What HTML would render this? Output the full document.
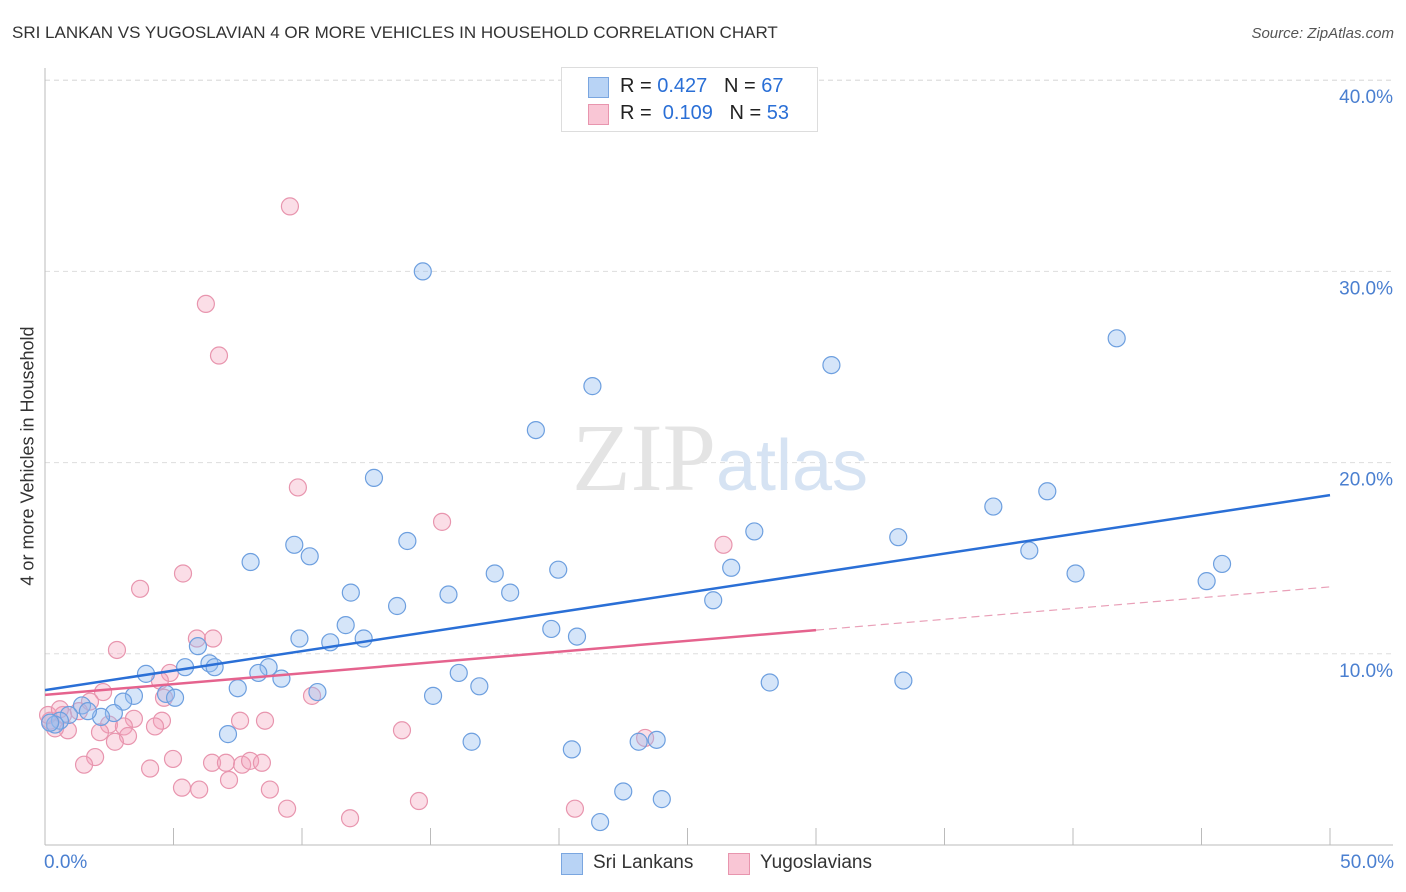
<!DOCTYPE html>
<html><head><meta charset="utf-8"><style>
body{margin:0;background:#fff;font-family:"Liberation Sans",sans-serif;}
#wrap{position:relative;width:1406px;height:892px;overflow:hidden;}
.t{position:absolute;white-space:nowrap;}
</style></head><body>
<div id="wrap">
<div class="t" style="left:12px;top:23px;font-size:17px;color:#333;">SRI LANKAN VS YUGOSLAVIAN 4 OR MORE VEHICLES IN HOUSEHOLD CORRELATION CHART</div>
<div class="t" style="right:12px;top:25px;font-size:15px;color:#555;font-style:italic;">Source: ZipAtlas.com</div>
<div class="t" style="left:28px;top:456px;font-size:18px;color:#333;transform:translate(-50%,-50%) rotate(-90deg);">4 or more Vehicles in Household</div>
<svg id="svg" width="1406" height="892" style="position:absolute;left:0;top:0"></svg>
</div>
<script>
const blueX=[14.7,21.3,19.1,12.8,30.6,41.7,36.9,39.0,27.6,33.2,38.3,40.1,45.2,45.8,26.7,19.97,14.1,9.7,10.3,8.0,17.5,11.9,15.7,18.1,13.7,26.0,11.7,19.7,20.7,9.9,11.1,12.4,5.95,5.45,6.4,6.6,3.93,8.7,8.3,9.2,16.1,7.5,10.6,16.9,15.1,28.2,33.4,4.71,5.06,3.46,3.04,1.44,2.68,2.18,7.12,0.93,0.58,0.39,16.6,20.5,23.1,23.8,22.5,24.0,21.6,0.2,1.67];
const blueY=[30.0,24.0,21.7,19.2,25.1,26.5,17.7,18.5,16.4,16.1,15.4,14.2,13.8,14.7,14.5,14.4,15.9,15.7,15.1,14.8,14.2,13.2,13.1,13.2,12.5,12.8,11.5,11.3,10.9,10.8,10.6,10.8,10.4,9.3,9.5,9.3,8.95,9.3,9.0,8.7,9.0,8.2,8.0,8.3,7.8,8.5,8.6,7.9,7.7,7.8,7.5,7.3,6.9,6.7,5.8,6.8,6.5,6.3,5.4,5.0,5.4,5.5,2.8,2.4,1.2,6.4,7.0];
const pinkX=[9.53,6.26,6.77,9.84,15.45,26.4,5.37,3.7,5.91,6.54,2.8,4.86,4.47,2.26,4.63,1.75,1.32,0.7,3.46,10.39,8.56,7.59,4.55,2.49,3.07,2.14,0.89,4.28,3.23,2.72,13.89,23.35,1.95,1.52,4.09,4.98,6.5,7.04,7.67,7.98,8.44,7.16,5.33,6.0,8.75,14.55,9.42,11.87,20.62,0.2,0.39,0.12,0.58];
const pinkY=[33.4,28.3,25.6,18.7,16.9,15.7,14.2,13.4,10.8,10.8,10.2,9.0,8.6,8.0,7.7,7.5,7.0,6.8,6.6,7.8,6.5,6.5,6.5,6.3,6.2,5.9,6.0,6.2,5.7,5.4,6.0,5.6,4.6,4.2,4.0,4.5,4.3,4.3,4.2,4.4,4.3,3.4,3.0,2.9,2.9,2.3,1.9,1.4,1.9,6.5,6.1,6.8,7.1];
const yTicks=[10,20,30,40];
const yTickLabels=["10.0%","20.0%","30.0%","40.0%"];
const xTickVals=[5,10,15,20,25,30,35,40,45,50];
const blueTrend=[8.1,18.3];
const pinkTrend=[7.85,13.5];
const pinkSolidEnd=30;

const X=v=>45+v*25.7, Y=v=>845-v*19.12;
const svg=document.getElementById('svg');const NS='http://www.w3.org/2000/svg';
function mk(t,a,p){const e=document.createElementNS(NS,t);for(const k in a)e.setAttribute(k,a[k]);(p||svg).appendChild(e);return e;}
yTicks.forEach((v,i)=>{
 const g=mk('line',{x1:45,x2:1393,y1:Y(v),y2:Y(v),stroke:'#ddd','stroke-dasharray':'5,4'});
 
 
 const t=mk('text',{x:1393,y:Y(v)+23,'text-anchor':'end','font-size':19,fill:'#4a7fd0','font-family':'Liberation Sans'});
 t.textContent=yTickLabels[i];
 
 
});
{const g=mk('line',{x1:45,x2:1393,y1:Y(40),y2:Y(40),stroke:'#ddd','stroke-dasharray':'5,4'});}
const ax=mk('line',{x1:45,x2:45,y1:68,y2:845,stroke:'#bbb'});


const bx=mk('line',{x1:45,x2:1393,y1:845,y2:845,stroke:'#bbb'});


xTickVals.forEach(v=>{const l=mk('line',{x1:X(v),x2:X(v),y1:828,y2:845,stroke:'#bbb'});
 
 });
const wm=mk('text',{x:720,y:490,'text-anchor':'middle','font-size':96,fill:'#e4e4e4','font-family':'Liberation Serif'});
wm.innerHTML='ZIP<tspan fill="#d6e3f3" font-family="Liberation Sans" font-size="72">atlas</tspan>';


function dots(xs,ys,fill,stroke,name){xs.forEach((x,i)=>{const c=mk('circle',{cx:X(x),cy:Y(ys[i]),r:8.5,fill:fill,stroke:stroke,'stroke-width':1.2});
 
 });}
dots(pinkX,pinkY,'rgba(244,160,185,0.35)','#e895ae','yugoslavian-point');
dots(blueX,blueY,'rgba(150,190,240,0.4)','#6d9fdf','sri-lankan-point');
const bl=mk('line',{x1:X(0),y1:Y(blueTrend[0]),x2:X(50),y2:Y(blueTrend[1]),stroke:'#2a6fd6','stroke-width':2.5});


const pm=pinkTrend[0]+(pinkTrend[1]-pinkTrend[0])*pinkSolidEnd/50;
const pl=mk('line',{x1:X(0),y1:Y(pinkTrend[0]),x2:X(pinkSolidEnd),y2:Y(pm),stroke:'#e5638e','stroke-width':2.5});


const pd=mk('line',{x1:X(pinkSolidEnd),y1:Y(pm),x2:X(50),y2:Y(pinkTrend[1]),stroke:'#e9a0b8','stroke-width':1.2,'stroke-dasharray':'8,5'});


</script>
<div class="t" style="left:44px;top:852px;font-size:19px;color:#4a7fd0;">0.0%</div>
<div class="t" style="right:12px;top:852px;font-size:19px;color:#4a7fd0;">50.0%</div>
<div style="position:absolute;left:561px;top:67px;width:255px;height:63px;border:1px solid #ddd;background:#fff;font-size:20px;color:#222;">
 <div style="position:absolute;left:26px;top:9px;width:19px;height:19px;background:#b8d3f5;border:1px solid #7aa6e0;"></div>
 <div class="t" style="left:58px;top:7px;">R = <span style="color:#2a6fd6">0.427</span>&nbsp;&nbsp;&nbsp;N = <span style="color:#2a6fd6">67</span></div>
 <div style="position:absolute;left:26px;top:36px;width:19px;height:19px;background:#f9c6d5;border:1px solid #e895ae;"></div>
 <div class="t" style="left:58px;top:34px;">R = &nbsp;<span style="color:#2a6fd6">0.109</span>&nbsp;&nbsp;&nbsp;N = <span style="color:#2a6fd6">53</span></div>
</div>
<div style="position:absolute;left:561px;top:852px;font-size:19px;color:#333;">
 <div style="position:absolute;left:0;top:1px;width:20px;height:20px;background:#b8d3f5;border:1px solid #7aa6e0;"></div>
 <div class="t" style="left:32px;top:0;">Sri Lankans</div>
 <div style="position:absolute;left:167px;top:1px;width:20px;height:20px;background:#f9c6d5;border:1px solid #e895ae;"></div>
 <div class="t" style="left:199px;top:0;">Yugoslavians</div>
</div>
</body></html>
